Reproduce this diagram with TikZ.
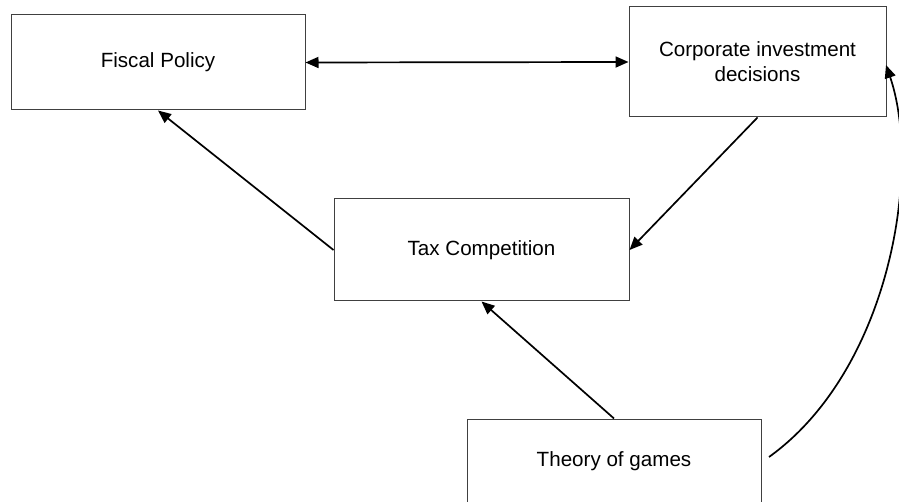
\documentclass[tikz,border=0pt]{standalone}
\usepackage{fontspec}
\setmainfont{Liberation Sans}
\usetikzlibrary{arrows.meta}
\tikzset{
  box/.style={draw=black!75, line width=1pt, rectangle, align=center, font=\fontsize{20.6}{25}\selectfont, inner sep=0pt},
  conn/.style={line width=1.7pt, -{Triangle[length=13pt,width=11pt]}},
  dconn/.style={line width=1.7pt, {Triangle[length=13pt,width=11pt]}-{Triangle[length=13pt,width=11pt]}}
}
\begin{document}
\begin{tikzpicture}[x=1pt,y=-1pt]
\useasboundingbox[fill=white] (0,0) rectangle (899,502);
\node[box, minimum width=294pt, minimum height=95pt] (fiscal) at (158,62.5) {Fiscal Policy};
\node[box, minimum width=257pt, minimum height=110pt] (corp) at (757.5,62) {Corporate investment\\decisions};
\node[box, minimum width=295pt, minimum height=102pt] (tax) at (481.5,250) {Tax Competition};
\node[box, minimum width=294pt, minimum height=84pt] (theory) at (614,461) {Theory of games};
\draw[dconn] (fiscal.east) -- (corp.west);
\draw[conn] (corp.south) -- (tax.east);
\draw[conn] (tax.west) -- (fiscal.south);
\draw[conn] (theory.north) -- (tax.south);
\coordinate (cs) at (769,457);
\coordinate (ce) at (886,65);
\draw[conn] (cs) .. controls (890,370) and (922,170) .. (ce);
\end{tikzpicture}
\end{document}
